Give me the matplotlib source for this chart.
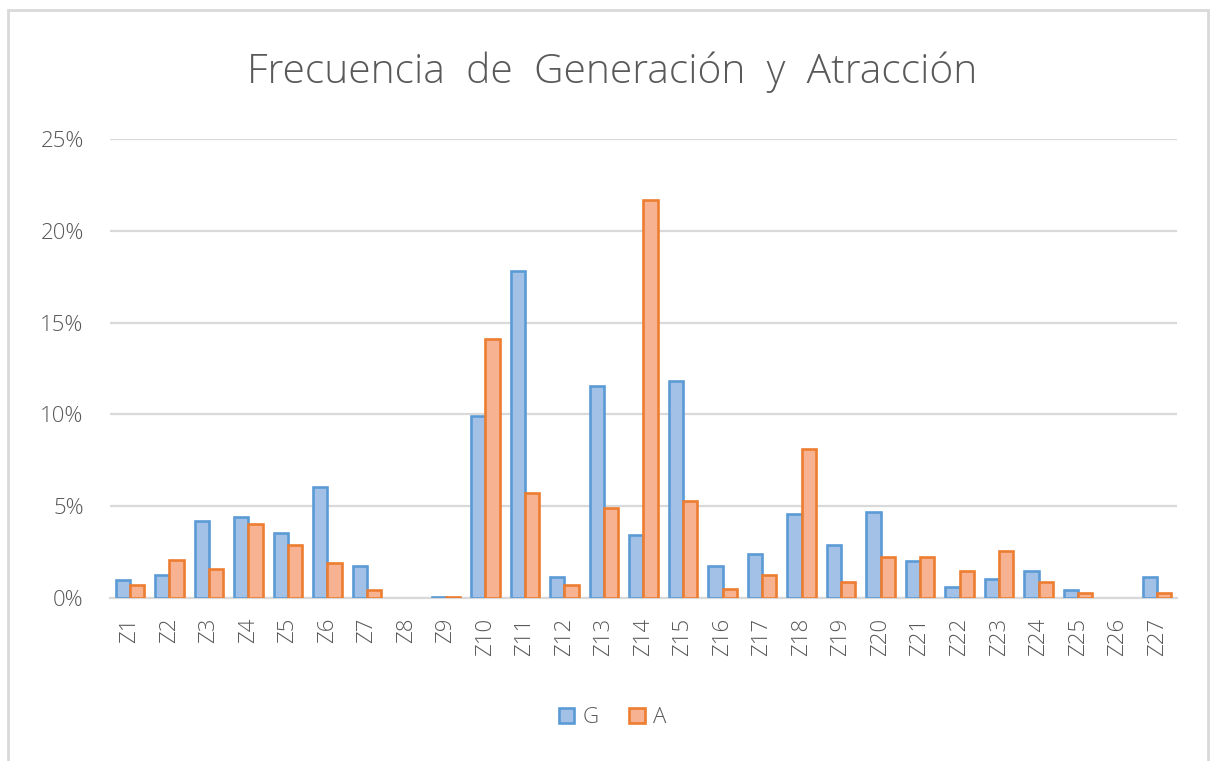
import numpy as np
import matplotlib.pyplot as plt
from matplotlib.patches import Rectangle
from matplotlib.ticker import PercentFormatter

# zones and share of trips generated (G) and attracted (A), in %; nan = no data
zonas = ['Z' + str(i) for i in range(1, 28)]
generacion = [0.97, 1.25, 4.2, 4.4, 3.55, 6.06, 1.72, np.nan, 0.05, 9.9,
              17.8, 1.15, 11.55, 3.44, 11.8, 1.72, 2.37, 4.59, 2.91, 4.66,
              1.99, 0.62, 1.05, 1.46, 0.41, np.nan, 1.15]
atraccion = [0.70, 2.07, 1.6, 4.03, 2.9, 1.9, 0.42, np.nan, 0.05, 14.1,
             5.73, 0.69, 4.9, 21.7, 5.28, 0.51, 1.24, 8.1, 0.88, 2.24,
             2.24, 1.46, 2.54, 0.88, 0.29, np.nan, 0.29]

gris = '#595959'
plt.rcParams['font.family'] = ['Open Sans', 'DejaVu Sans']

fig = plt.figure(figsize=(12.13, 7.61), dpi=100)
ax = fig.add_axes([0.0907, 0.2142, 0.8796, 0.6031])

x = np.arange(len(zonas))
w = 0.36
ax.bar(x - w / 2, generacion, w, color='#a3c1e7', edgecolor='#5b9bd5', linewidth=1.9, label='G', zorder=3)
ax.bar(x + w / 2, atraccion, w, color='#f7b291', edgecolor='#ed7d31', linewidth=1.9, label='A', zorder=3)

ax.set_xlim(-0.5, len(zonas) - 0.5)
ax.set_ylim(0, 25)
ax.set_yticks([0, 5, 10, 15, 20, 25])
ax.yaxis.set_major_formatter(PercentFormatter(decimals=0))
ax.grid(axis='y', color='#d9d9d9', linewidth=1.6, zorder=0)
for s in ['top', 'right', 'left']:
    ax.spines[s].set_visible(False)
ax.spines['bottom'].set_color('#d9d9d9')
ax.spines['bottom'].set_linewidth(1.6)
ax.tick_params(length=0, colors=gris, labelsize=16)
ax.tick_params(axis='y', pad=19)
ax.tick_params(axis='x', pad=14)
ax.set_xticks(x)
ax.set_xticklabels(zonas, rotation=90)
for t in ax.get_xticklabels() + ax.get_yticklabels():
    t.set_fontweight('light')

fig.text(0.505, 0.905, 'Frecuencia  de  Generación  y  Atracción', ha='center', va='center',
         fontsize=29.3, color=gris, fontweight='light')

leg = fig.legend(loc='center', bbox_to_anchor=(0.505, 0.057), ncol=2, frameon=False,
                 fontsize=16, labelcolor=gris, handlelength=0.7, handleheight=0.7,
                 handletextpad=0.35, columnspacing=1.4)
for t in leg.get_texts():
    t.set_fontweight('light')

# chart frame
fig.patches.append(Rectangle((8 / 1213, -0.02), 1200 / 1213, 1.02 - 10 / 761,
                             transform=fig.transFigure, fill=False,
                             edgecolor='#d9d9d9', linewidth=2))

fig.savefig('out.png', dpi=100)
